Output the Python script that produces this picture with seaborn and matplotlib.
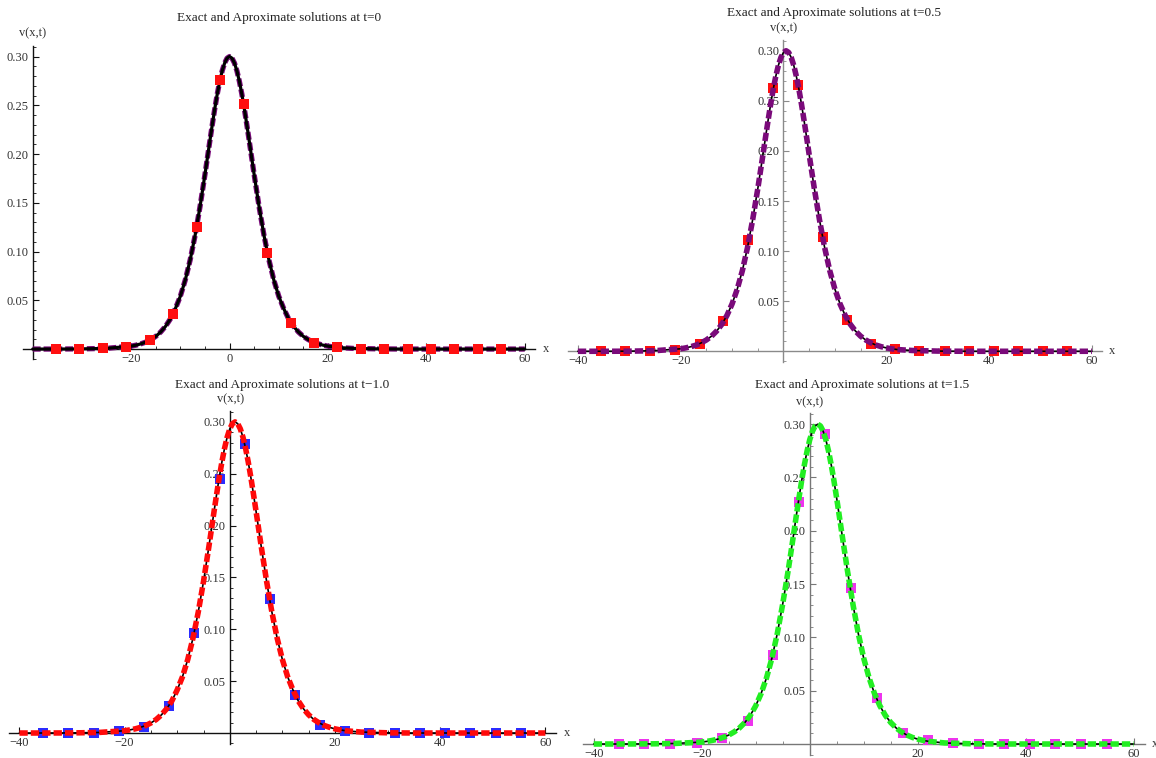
import matplotlib
matplotlib.use("Agg")
import matplotlib.pyplot as plt
import seaborn as sns
from matplotlib.ticker import MultipleLocator

sns.set_style("white")
plt.rcParams["font.family"] = ["Liberation Serif", "DejaVu Serif"]

# curve samples (x) and values
x_grid = [-40, -35, -30, -25,
          -20, -19, -18, -17, -16, -15, -14, -13, -12, -11, -10, -9, -8, -7, -6, -5,
          -4, -3.5, -3, -2.5, -2, -1.5, -1, -0.5, 0, 0.5, 1, 1.5, 2, 2.5, 3, 3.5, 4, 4.5, 5,
          6, 7, 8, 9, 10, 11, 12, 13, 14, 15, 16, 17, 18, 19, 20, 21, 22,
          25, 30, 35, 40, 45, 50, 55, 60]

v_t00 = [0, 0, 0.0002, 0.0007,
         0.0030, 0.0040, 0.0054, 0.0072, 0.0097, 0.0130, 0.0175, 0.0234, 0.0311, 0.0416,
         0.0542, 0.0708, 0.0915, 0.1166, 0.1461, 0.1790,
         0.2135, 0.2304, 0.2466, 0.2615, 0.2745, 0.2853, 0.2933, 0.2983, 0.3000, 0.2983,
         0.2933, 0.2853, 0.2745, 0.2615, 0.2466, 0.2304, 0.2135, 0.1961, 0.1790,
         0.1461, 0.1166, 0.0915, 0.0708, 0.0542, 0.0416, 0.0311, 0.0234, 0.0175, 0.0130,
         0.0097, 0.0072, 0.0054, 0.0040, 0.0030, 0.0022, 0.0016,
         0.0007, 0.0002, 0, 0, 0, 0, 0, 0]

v_t05 = [0, 0, 0.0001, 0.0006,
         0.0025, 0.0034, 0.0046, 0.0062, 0.0084, 0.0113, 0.0151, 0.0202, 0.0269, 0.0358,
         0.0473, 0.0620, 0.0805, 0.1036, 0.1313, 0.1623,
         0.1961, 0.2135, 0.2304, 0.2466, 0.2615, 0.2745, 0.2853, 0.2933, 0.2983, 0.3000,
         0.2983, 0.2933, 0.2853, 0.2745, 0.2615, 0.2466, 0.2304, 0.2135, 0.1961,
         0.1623, 0.1313, 0.1036, 0.0805, 0.0620, 0.0473, 0.0358, 0.0269, 0.0202, 0.0151,
         0.0113, 0.0084, 0.0062, 0.0046, 0.0034, 0.0025, 0.0018,
         0.0008, 0.0002, 0, 0, 0, 0, 0, 0]

v_t10 = [0, 0, 0.0001, 0.0005,
         0.0022, 0.0030, 0.0040, 0.0054, 0.0072, 0.0097, 0.0130, 0.0175, 0.0234, 0.0311,
         0.0416, 0.0542, 0.0708, 0.0915, 0.1166, 0.1461,
         0.1790, 0.1961, 0.2135, 0.2304, 0.2466, 0.2615, 0.2745, 0.2853, 0.2933, 0.2983,
         0.3000, 0.2983, 0.2933, 0.2853, 0.2745, 0.2615, 0.2466, 0.2304, 0.2135,
         0.1790, 0.1461, 0.1166, 0.0915, 0.0708, 0.0542, 0.0416, 0.0311, 0.0234, 0.0175,
         0.0130, 0.0097, 0.0072, 0.0054, 0.0040, 0.0030, 0.0022,
         0.0009, 0.0002, 0, 0, 0, 0, 0, 0]

v_t15 = [0, 0, 0.0001, 0.0005,
         0.0018, 0.0025, 0.0034, 0.0046, 0.0062, 0.0084, 0.0113, 0.0151, 0.0202, 0.0269,
         0.0358, 0.0473, 0.0620, 0.0805, 0.1036, 0.1313,
         0.1623, 0.1790, 0.1961, 0.2135, 0.2304, 0.2466, 0.2615, 0.2745, 0.2853, 0.2933,
         0.2983, 0.3000, 0.2983, 0.2933, 0.2853, 0.2745, 0.2615, 0.2466, 0.2304,
         0.1961, 0.1623, 0.1313, 0.1036, 0.0805, 0.0620, 0.0473, 0.0358, 0.0269, 0.0202,
         0.0151, 0.0113, 0.0084, 0.0062, 0.0046, 0.0034, 0.0025,
         0.0010, 0.0002, 0, 0, 0, 0, 0, 0]

# numerical points (markers)
px_t00 = [-35.2, -30.5, -25.7, -21.0, -16.2, -11.4, -6.7, -1.9, 2.9, 7.6,
          12.4, 17.1, 21.9, 26.7, 31.4, 36.2, 41.0, 45.7, 50.5, 55.2]
pv_t00 = [0, 0.0001, 0.0006, 0.0020, 0.0090, 0.0360, 0.1250, 0.2760, 0.2510, 0.0990,
          0.0270, 0.0065, 0.0022, 0.0004, 0.0001, 0, 0, 0, 0, 0]
px_t05 = [-35.5, -30.8, -25.9, -21.1, -16.3, -11.7, -6.9, -2.1, 2.9, 7.6,
          12.4, 17.1, 21.7, 26.4, 31.4, 36.1, 40.9, 45.6, 50.4, 55.1]
pv_t05 = [0, 0, 0.0002, 0.0015, 0.0074, 0.0306, 0.1106, 0.2625, 0.2658, 0.1140,
          0.0309, 0.0077, 0.0018, 0.0003, 0.0001, 0, 0, 0, 0, 0]
px_t10 = [-35.6, -30.8, -25.9, -21.1, -16.3, -11.6, -6.8, -1.9, 2.8, 7.7,
          12.4, 17.2, 21.9, 26.5, 31.4, 36.1, 40.9, 45.6, 50.6, 55.3]
pv_t10 = [0, 0, 0.0002, 0.0016, 0.0058, 0.0257, 0.0961, 0.2453, 0.2790, 0.1293,
          0.0370, 0.0080, 0.0020, 0.0004, 0.0001, 0, 0, 0, 0, 0]
px_t15 = [-35.3, -30.6, -25.8, -20.9, -16.2, -11.4, -6.8, -2.0, 2.8, 7.7,
          12.5, 17.2, 21.9, 26.5, 31.3, 36.0, 40.8, 45.5, 50.3, 55.0]
pv_t15 = [0, 0, 0.0002, 0.0010, 0.0053, 0.0216, 0.0835, 0.2274, 0.2910, 0.1460,
          0.0435, 0.0100, 0.0035, 0.0008, 0.0002, 0, 0, 0, 0, 0]

titles = ["Exact and Aproximate solutions at t=0",
          "Exact and Aproximate solutions at t=0.5",
          "Exact and Aproximate solutions at t\u22121.0",
          "Exact and Aproximate solutions at t=1.5"]
y_ticks = [0.05, 0.10, 0.15, 0.20, 0.25, 0.30]

W, H = 1156, 758
fig = plt.figure(figsize=(W / 100, H / 100), dpi=100)


def fx(px):
    return px / W


def fy(py):
    return 1 - py / H


panels = [
    # rect (left, top, width, height) px, curve, markers, colours, y axis x, text spots
    dict(rect=(22.9, 46.3, 511.7, 313.0), v=v_t00, mx=px_t00, mv=pv_t00,
         approx="#7a0a7a", exact_lw=2.3, approx_lw=3.8, exact_top=True,
         mcol="#ff1010", mtop=True, axcol="#111111", yaxis=-40,
         xticks=[-20, 0, 20, 40, 60], title=(279, 18), vlab=(33, 33), xlab=(546, 349)),
    dict(rect=(567.6, 40.2, 534.6, 321.6), v=v_t05, mx=px_t05, mv=pv_t05,
         approx="#7a0a7a", exact_lw=1.2, approx_lw=4.0, exact_top=False,
         mcol="#ff1010", mtop=False, axcol="#8a8a8a", yaxis=0,
         xticks=[-40, -20, 20, 40, 60], title=(834, 13), vlab=(784, 28), xlab=(1112, 351)),
    dict(rect=(8.9, 411.0, 547.0, 332.9), v=v_t10, mx=px_t10, mv=pv_t10,
         approx="#ff0a0a", exact_lw=1.2, approx_lw=4.0, exact_top=False,
         mcol="#2b2bff", mtop=False, axcol="#111111", yaxis=0,
         xticks=[-40, -20, 20, 40, 60], title=(282, 385), vlab=(231, 399), xlab=(567, 733)),
    dict(rect=(582.9, 413.0, 561.6, 342.2), v=v_t15, mx=px_t15, mv=pv_t15,
         approx="#22ee22", exact_lw=1.2, approx_lw=4.0, exact_top=False,
         mcol="#ee33ee", mtop=False, axcol="#777777", yaxis=0,
         xticks=[-40, -20, 20, 40, 60], title=(862, 385), vlab=(810, 402), xlab=(1155, 744)),
]

for p, title in zip(panels, titles):
    l, t, w, h = p["rect"]
    ax = fig.add_axes([fx(l), fy(t + h), w / W, h / H])
    ax.set_facecolor("none")

    z_exact = 3 if p["exact_top"] else 2
    z_approx = 2 if p["exact_top"] else 3
    z_mark = 4 if p["mtop"] else 1.5

    sns.lineplot(x=x_grid, y=p["v"], ax=ax, color=p["approx"], linewidth=p["approx_lw"],
                 linestyle=(0, (1.5, 0.55)), zorder=z_approx, estimator=None)
    sns.lineplot(x=x_grid, y=p["v"], ax=ax, color="black", linewidth=p["exact_lw"],
                 zorder=z_exact, estimator=None)
    sns.scatterplot(x=p["mx"], y=p["mv"], ax=ax, color=p["mcol"], marker="s", s=42,
                    linewidth=0, zorder=z_mark)

    ax.set_xlim(-42, 62)
    ax.set_ylim(-0.0105, 0.3105)

    for side in ["top", "right"]:
        ax.spines[side].set_visible(False)
    ax.spines["left"].set_position(("data", p["yaxis"]))
    ax.spines["bottom"].set_position(("data", 0))
    for side in ["left", "bottom"]:
        ax.spines[side].set_color(p["axcol"])
        ax.spines[side].set_linewidth(1.0)
        ax.spines[side].set_zorder(1)

    ax.set_xticks(p["xticks"])
    ax.set_xticklabels([f"{v:d}".replace("-", "\u2212") for v in p["xticks"]])
    ax.set_yticks(y_ticks)
    ax.set_yticklabels([f"{v:.2f}" for v in y_ticks])
    ax.xaxis.set_minor_locator(MultipleLocator(5))
    ax.yaxis.set_minor_locator(MultipleLocator(0.01))
    ax.tick_params(which="both", bottom=True, left=True, top=False, right=False)
    ax.tick_params(which="major", direction="in", length=4, width=0.8, color=p["axcol"],
                   labelsize=9, labelcolor="#333333", pad=3)
    ax.tick_params(which="minor", direction="in", length=2, width=0.6, color=p["axcol"])
    ax.set_xlabel("")
    ax.set_ylabel("")

    fig.text(fx(p["title"][0]), fy(p["title"][1]), title, ha="center", va="center",
             fontsize=9.5, color="#222222")
    fig.text(fx(p["vlab"][0]), fy(p["vlab"][1]), "v(x,t)", ha="center", va="center",
             fontsize=9, color="#333333")
    fig.text(fx(p["xlab"][0]), fy(p["xlab"][1]), "x", ha="center", va="center",
             fontsize=9, color="#333333")

fig.savefig("out.png", dpi=100)
